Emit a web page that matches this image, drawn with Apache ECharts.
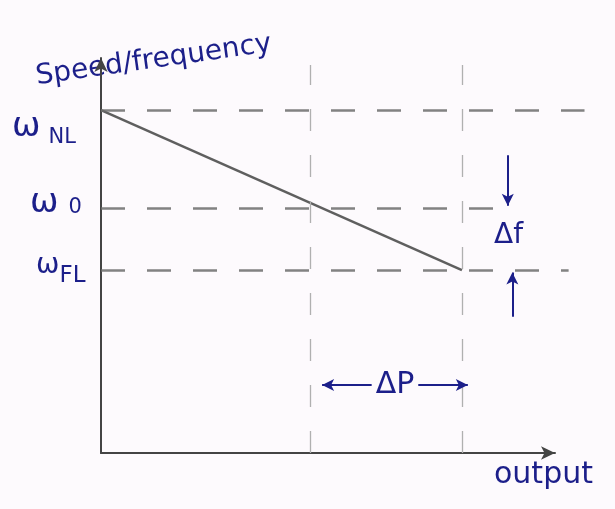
<!DOCTYPE html>
<html><head><meta charset="utf-8">
<script src="https://cdn.jsdelivr.net/npm/echarts@6/dist/echarts.min.js"></script>
<style>html,body{margin:0;padding:0;background:#fdfafd}#chart{width:615px;height:509px}</style>
</head><body><div id="chart"></div>
<script>
// Reference speed levels on a 0–100 speed scale
const speedKeys = ['NL', '0', 'FL'];
const speedLevels = [86.8, 62.0, 46.3];
// Output value at which each speed level's dashed guide stops
const speedLineEnds = [106.5, 88, 103];
// Output at the two operating points (part load and full load)
const outputLevels = [46.2, 79.5];
const outputLineTop = 98.2;
// Governor droop characteristic
const droopOutput = [0, 79.5];
const droopSpeed = [86.8, 46.3];
// Annotation arrows
const deltaPLevel = 17.2;
const deltaPFrom = 48.7, deltaPTo = 80.8;
const deltaFX = 89.6;
const deltaFTop = 75.4, deltaFBottom = 34.5;

const ink = '#1c1f8a';
const pencil = '#6c6c6c';
const font = '"DejaVu Sans", sans-serif';

const chart = echarts.init(document.getElementById('chart'));

const hLines = speedLevels.map((v, i) => [
  { coord: [0, v] }, { coord: [speedLineEnds[i], v] }
]);
const vLines = outputLevels.map(x => [
  { coord: [x, 0] }, { coord: [x, outputLineTop] }
]);

chart.setOption({
  backgroundColor: '#fdfafd',
  animation: false,
  grid: [
    { left: 101, width: 454, top: 58, bottom: 56 },
    { left: 101, width: 454 * 1.08, top: 58, bottom: 56 }
  ],
  xAxis: [
    { gridIndex: 0, type: 'value', min: 0, max: 100,
      axisLine: { lineStyle: { color: '#444', width: 2 }, symbol: ['none', 'arrow'], symbolSize: [10, 14] },
      axisTick: { show: false }, axisLabel: { show: false }, splitLine: { show: false } },
    { gridIndex: 1, type: 'value', min: 0, max: 108, show: false }
  ],
  yAxis: [
    { gridIndex: 0, type: 'value', min: 0, max: 100,
      axisLine: { lineStyle: { color: '#444', width: 2 }, symbol: ['none', 'arrow'], symbolSize: [10, 14] },
      axisTick: { show: false }, axisLabel: { show: false }, splitLine: { show: false } },
    { gridIndex: 1, type: 'value', min: 0, max: 100, show: false }
  ],
  series: [
    {
      type: 'line', xAxisIndex: 1, yAxisIndex: 1,
      data: droopOutput.map((x, i) => [x, droopSpeed[i]]),
      symbol: 'none', clip: false,
      lineStyle: { color: '#5f5f5f', width: 2.5 },
      markLine: {
        silent: true, symbol: 'none', label: { show: false },
        lineStyle: { color: pencil, width: 2.5, type: [24, 22], opacity: 0.85 },
        data: hLines
      }
    },
    {
      type: 'line', xAxisIndex: 1, yAxisIndex: 1, data: [], clip: false,
      markLine: {
        silent: true, symbol: 'none', label: { show: false },
        lineStyle: { color: '#b0b0b0', width: 1.3, type: [22, 24] },
        data: vLines
      }
    },
    {
      type: 'line', xAxisIndex: 1, yAxisIndex: 1, data: [], clip: false,
      markLine: {
        silent: true, symbol: ['none', 'arrow'], symbolSize: [9, 12],
        lineStyle: { color: ink, width: 2, type: 'solid' },
        label: { show: false },
        data: [
          [{ coord: [deltaFX, deltaFTop] }, { coord: [deltaFX, speedLevels[1] + 0.6] }],
          [{ coord: [deltaFX + 1, deltaFBottom] }, { coord: [deltaFX + 1, speedLevels[2] - 0.6] }],
          [{ coord: [deltaPFrom, deltaPLevel], symbol: 'arrow',
             label: {
               show: true, position: 'insideMiddle', formatter: 'ΔP',
               color: ink, fontFamily: font, fontSize: 30,
               backgroundColor: '#fdfafd', padding: [0, 4]
             } },
           { coord: [deltaPTo, deltaPLevel], symbol: 'arrow' }]
        ]
      }
    }
  ],
  graphic: [
    { type: 'text', left: 34, top: 30, rotation: 0.14,
      style: { text: 'Speed/frequency', fill: ink, font: '28px ' + font } },
    { type: 'text', left: 12, top: 110,
      style: { text: '{w|ω}{s|NL}', rich: { w: { fill: ink, fontSize: 34, fontFamily: font },
        s: { fill: ink, fontSize: 21, fontFamily: font, padding: [22, 0, 0, 8] } } } },
    { type: 'text', left: 30, top: 186,
      style: { text: '{w|ω}{s|0}', rich: { w: { fill: ink, fontSize: 34, fontFamily: font },
        s: { fill: ink, fontSize: 21, fontFamily: font, padding: [10, 0, 0, 10] } } } },
    { type: 'text', left: 36, top: 252,
      style: { text: '{w|ω}{s|FL}', rich: { w: { fill: ink, fontSize: 28, fontFamily: font },
        s: { fill: ink, fontSize: 23, fontFamily: font, padding: [20, 0, 0, 0] } } } },
    { type: 'text', left: 494, top: 222,
      style: { text: 'Δf', fill: ink, font: '28px ' + font } },
    { type: 'text', left: 494, top: 460,
      style: { text: 'output', fill: ink, font: '30px ' + font } }
  ]
});
</script></body></html>
